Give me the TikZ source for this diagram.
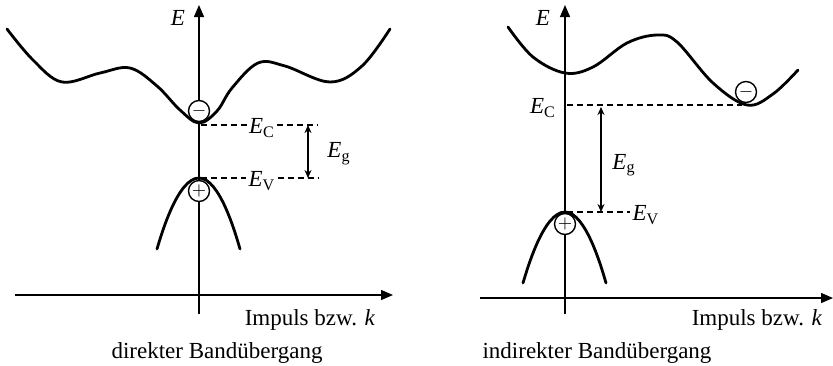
\documentclass[tikz,border=0pt]{standalone}
\usepackage{fontspec}
\setmainfont{Liberation Serif}
\usetikzlibrary{arrows.meta}

\tikzset{
  band/.style={line width=1.4pt, line cap=round},
  axis/.style={line width=0.7pt, -{Triangle[length=6pt,width=5pt]}},
  level/.style={dash pattern=on 3pt off 2pt, line width=0.6pt},
  gap/.style={line width=0.7pt, {Stealth[length=4pt,width=3.5pt]}-{Stealth[length=4pt,width=3.5pt]}},
  charge/.style={circle, draw, line width=0.7pt, fill=white, inner sep=0pt, minimum size=10.5pt, font=\fontsize{9}{9}\selectfont},
  lbl/.style={inner sep=1pt},
}
\newcommand{\Elev}[1]{\textit{E}\textsubscript{#1}}

\begin{document}
\begin{tikzpicture}[x=0.5pt, y=-0.5pt, font=\fontsize{11.5}{13}\selectfont]
    \useasboundingbox (0,0) rectangle (833,365);

    % direkter Bandübergang (links)
    \coordinate (xL0) at (15,295);
    \coordinate (xL1) at (393,295);
    \coordinate (yL0) at (199,314);
    \coordinate (yL1) at (199,5);
    \draw[axis] (xL0) -- (xL1);
    \draw[axis] (yL0) -- (yL1);
    \node[lbl] (EL) at (178,18) {\textit{E}};

    % Leitungsband und Valenzband
    \draw[band] plot[smooth, tension=0.6] coordinates {(7,29) (33,60) (62,82) (100,73) (130,68) (157,86) (180,110) (199,123) (217,111) (232,88) (258,63) (285,66) (330,82) (362,66) (390,29)};
    \draw[band] (157,249) parabola bend (199,178) (240,249);
    \node[charge] (eL) at (199,111) {$-$};
    \node[charge] (hL) at (199,191) {$+$};

    % Energieniveaus
    \coordinate (cL) at (201,125);
    \coordinate (vL) at (201,178);
    \coordinate (cL1) at (318,125);
    \coordinate (vL1) at (318,178);
    \node[lbl] (ECL) at (262,128) {\Elev{C}};
    \node[lbl] (EVL) at (262,181) {\Elev{V}};
    \draw[level] (cL) -- (ECL.west |- cL);
    \draw[level] (ECL.east |- cL) -- (cL1);
    \draw[level] (vL) -- (EVL.west |- vL);
    \draw[level] (EVL.east |- vL) -- (vL1);
    \draw[gap] ([xshift=-5]cL1) -- ([xshift=-5]vL1);
    \node[lbl] (EgL) at (339,154) {\Elev{g}};

    \node[lbl] (kL) at (310,320) {Impuls bzw. \textit{k}};
    \node[lbl] (tL) at (217,353) {direkter Bandübergang};

    % indirekter Bandübergang (rechts)
    \coordinate (xR0) at (480,298);
    \coordinate (xR1) at (833,298);
    \coordinate (yR0) at (565,314);
    \coordinate (yR1) at (565,5);
    \draw[axis] (xR0) -- (xR1);
    \draw[axis] (yR0) -- (yR1);
    \node[lbl] (ER) at (543,18) {\textit{E}};

    % Leitungsband und Valenzband
    \draw[band] plot[smooth, tension=0.6] coordinates {(508,27) (533,57) (565,73) (593,67) (627,43) (657,35) (677,42) (713,83) (747,105) (773,94) (798,70)};
    \draw[band] (523,283) parabola bend (565,212) (606,283);
    \node[charge] (eR) at (746,92) {$-$};
    \node[charge] (hR) at (565,224) {$+$};

    % Energieniveaus
    \coordinate (cR) at (567,105);
    \coordinate (cR1) at (742,105);
    \coordinate (vR) at (567,212);
    \node[lbl] (ECR) at (543,108) {\Elev{C}};
    \node[lbl] (EVR) at (646,215) {\Elev{V}};
    \draw[level] (cR) -- (cR1);
    \draw[level] (vR) -- (EVR.west |- vR);
    \draw[gap] (601,107) -- (601,212);
    \node[lbl] (EgR) at (624,165) {\Elev{g}};

    \node[lbl] (kR) at (757,320) {Impuls bzw. \textit{k}};
    \node[lbl] (tR) at (597,353) {indirekter Bandübergang};
\end{tikzpicture}
\end{document}
